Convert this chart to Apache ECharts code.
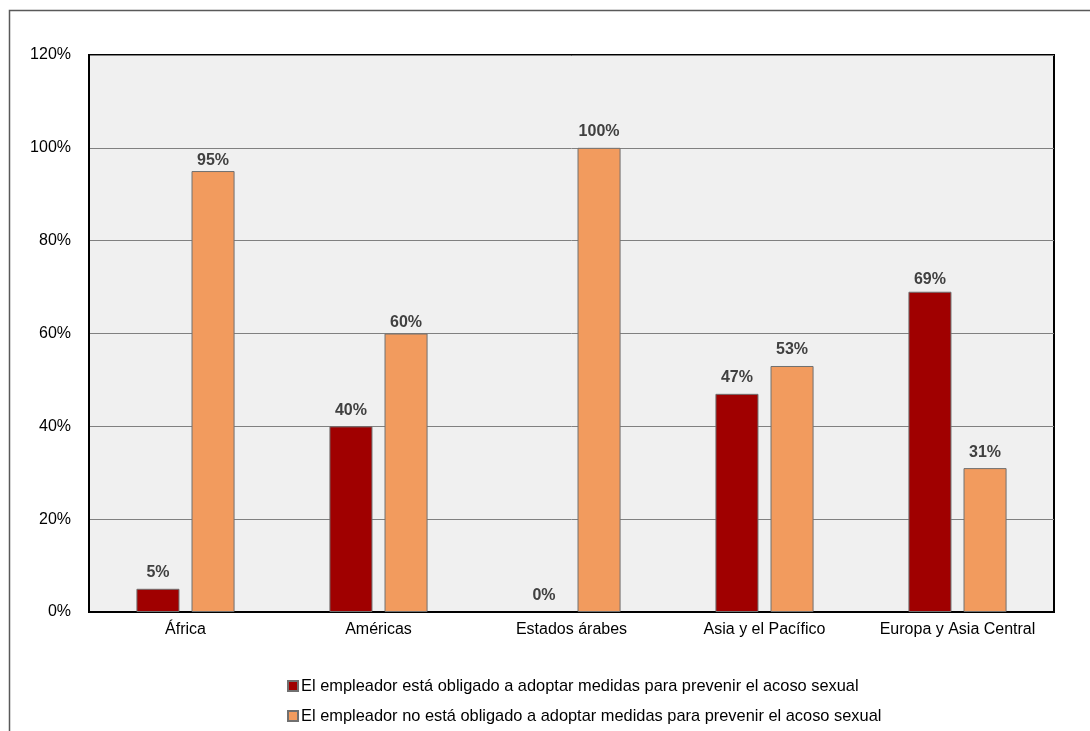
<!DOCTYPE html>
<html>
<head>
<meta charset="utf-8">
<script src="https://cdn.jsdelivr.net/npm/echarts@6/dist/echarts.min.js"></script>
<style>
  html, body { margin: 0; padding: 0; background: #ffffff; }
  #chart { width: 1090px; height: 731px; }
</style>
</head>
<body>
<div id="chart"></div>
<script>
// Regions and share of countries by employer obligation (percent)
const regions = ['África', 'Américas', 'Estados árabes', 'Asia y el Pacífico', 'Europa y Asia Central'];
const obligado = [5, 40, 0, 47, 69];
const noObligado = [95, 60, 100, 53, 31];
const seriesNames = [
  'El empleador está obligado a adoptar medidas para prevenir el acoso sexual',
  'El empleador no está obligado a adoptar medidas para prevenir el acoso sexual'
];

const FONT = '"Liberation Sans Narrow", "Arial Narrow", "Liberation Sans", Arial, sans-serif';

const chart = echarts.init(document.getElementById('chart'), null, { renderer: 'canvas' });

const labelStyle = {
  show: true,
  position: 'top',
  distance: 8,
  formatter: p => p.value + '%',
  fontFamily: FONT,
  fontWeight: 'bold',
  fontSize: 16,
  color: '#404040'
};

// Label gap above the bar, per category (some labels sit tighter to their bar)
const gapObligado = [8, 8, 8, 8, 4];
const gapNoObligado = [2, 3, 8, 8, 8];

// Zero-height bars get no outline so only their label shows
const toBars = (arr, gaps) => arr.map((v, i) => {
  const item = { value: v, label: { distance: gaps[i] } };
  if (v === 0) item.itemStyle = { borderWidth: 0 };
  return item;
});

chart.setOption({
  animation: false,
  backgroundColor: '#ffffff',
  textStyle: { fontFamily: FONT },
  graphic: [
    {
      type: 'rect',
      shape: { x: 9.5, y: 10.5, width: 1200, height: 900 },
      style: { fill: 'none', stroke: '#595959', lineWidth: 1.5 },
      silent: true,
      z: -10
    }
  ],
  grid: {
    left: 89,
    right: 36,
    top: 55,
    bottom: 119,
    show: true,
    backgroundColor: '#f0f0f0',
    borderColor: '#000000',
    borderWidth: 2
  },
  legend: {
    orient: 'vertical',
    left: 282,
    top: 673,
    itemWidth: 10,
    itemHeight: 10,
    itemGap: 14,
    icon: 'rect',
    textStyle: { fontFamily: FONT, fontSize: 16.4, color: '#000000', padding: [0, 0, 0, -2] },
    data: seriesNames
  },
  xAxis: {
    type: 'category',
    data: regions,
    axisLine: { show: true, lineStyle: { color: '#000000', width: 2 } },
    axisTick: { show: false },
    axisLabel: { interval: 0, fontFamily: FONT, fontSize: 16, color: '#000000', margin: 10 }
  },
  yAxis: {
    type: 'value',
    min: 0,
    max: 120,
    interval: 20,
    axisLine: { show: true, lineStyle: { color: '#000000', width: 2 } },
    axisTick: { show: false },
    splitLine: { show: true, lineStyle: { color: '#808080', width: 1 } },
    axisLabel: {
      formatter: v => v + '%',
      fontFamily: FONT,
      fontSize: 16,
      color: '#000000',
      margin: 18
    }
  },
  series: [
    {
      name: seriesNames[0],
      type: 'bar',
      data: toBars(obligado, gapObligado),
      barWidth: '22.3%',
      barGap: '28%',
      itemStyle: { color: '#a00000', borderColor: '#707070', borderWidth: 1 },
      label: labelStyle
    },
    {
      name: seriesNames[1],
      type: 'bar',
      data: toBars(noObligado, gapNoObligado),
      barWidth: '22.3%',
      itemStyle: { color: '#f29b5e', borderColor: '#707070', borderWidth: 1 },
      label: labelStyle
    }
  ]
});
</script>
</body>
</html>
